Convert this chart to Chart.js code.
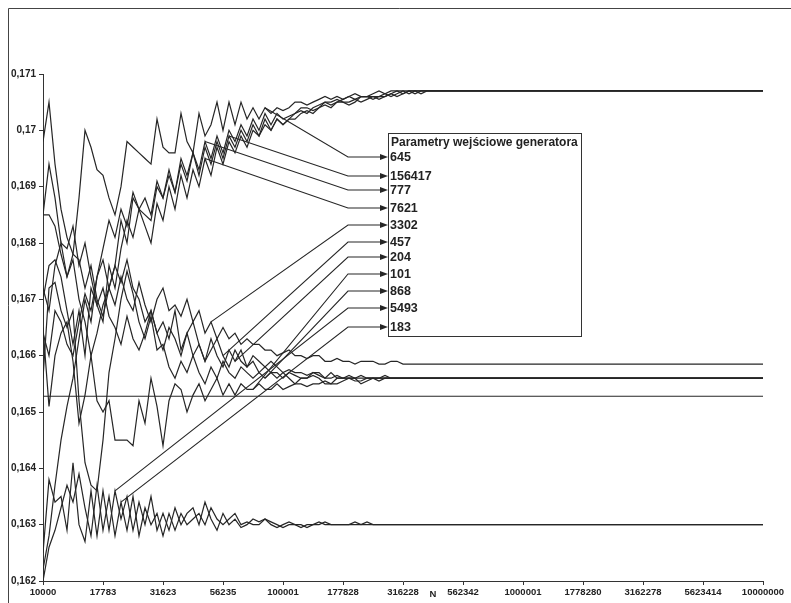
<!DOCTYPE html>
<html>
<head>
<meta charset="utf-8">
<script src="https://cdn.jsdelivr.net/npm/chart.js@4"></script>
<style>
  html, body { margin: 0; padding: 0; background: #fff; }
  #wrap { width: 791px; height: 603px; }
</style>
</head>
<body>
<div id="wrap"><canvas id="genChart" width="791" height="603"></canvas></div>
<script>
// step index along the x axis (40 steps per decade of N)
const kIdx = [0,1,2,3,4,5,6,7,8,9,10,11,12,13,14,15,16,17,18,19,20,21,22,23,24,25,26,27,28,29,
  30,31,32,33,34,35,36,37,38,39,40,41,42,43,44,45,46,47,48,49,50,51,52,53,54,55,56,57,58,59,
  60,61,62,63,64,66,68,70,72,74,76,78,80,84,88,92,96,100,110,120];

const xTickLabels = ["10000", "17783", "31623", "56235", "100001", "177828", "316228",
  "562342", "1000001", "1778280", "3162278", "5623414", "10000000"];

const seriesNames = ["645", "156417", "777", "7621", "3302", "457", "204", "101", "868", "5493", "183"];

const s645 = [0.1672,0.1668,0.1676,0.1680,0.1674,0.1678,0.1688,0.1700,0.1697,0.1693,
  0.1692,0.1688,0.1685,0.1690,0.1698,0.1697,0.1696,0.1695,0.1694,0.1702,
  0.1697,0.1696,0.1696,0.1703,0.1698,0.1696,0.1703,0.1699,0.1701,0.1705,
  0.1700,0.1705,0.1701,0.1705,0.1702,0.1704,0.1702,0.1704,0.1703,0.1704,
  0.17035,0.1704,0.1705,0.1705,0.17045,0.1705,0.17055,0.1706,0.17055,0.1706,
  0.17055,0.1706,0.17065,0.1706,0.1706,0.17065,0.1707,0.17065,0.1707,0.1707,
  0.17065,0.1707,0.1707,0.1707,0.1707,
  0.1707,0.1707,0.1707,0.1707,0.1707,0.1707,0.1707,0.1707,0.1707,0.1707,0.1707,0.1707,0.1707,0.1707,0.1707];
const s156417 = [0.1664,0.1660,0.1668,0.1666,0.1662,0.1660,0.1666,0.1671,0.1668,0.1674,
  0.1677,0.1672,0.1676,0.1684,0.1680,0.1688,0.1686,0.1685,0.1684,0.1690,
  0.1688,0.1692,0.1689,0.1694,0.1691,0.1696,0.1692,0.1697,0.1694,0.1698,
  0.1695,0.1699,0.1697,0.1700,0.1698,0.1701,0.1699,0.1702,0.1700,0.1702,
  0.1701,0.1702,0.1703,0.17035,0.1703,0.1704,0.17045,0.1705,0.17045,0.1705,
  0.17055,0.1706,0.17055,0.1705,0.17055,0.1706,0.1706,0.17065,0.1706,0.17065,
  0.1707,0.17065,0.1707,0.1707,0.1707,
  0.1707,0.1707,0.1707,0.1707,0.1707,0.1707,0.1707,0.1707,0.1707,0.1707,0.1707,0.1707,0.1707,0.1707,0.1707];
const s777 = [0.1622,0.1628,0.1637,0.1645,0.1651,0.1656,0.1663,0.1670,0.1666,0.1674,
  0.1679,0.1684,0.1681,0.1686,0.1683,0.1689,0.1686,0.1688,0.1685,0.1691,
  0.1688,0.1693,0.1689,0.1695,0.1692,0.1696,0.1693,0.1698,0.1695,0.1699,
  0.1696,0.1700,0.1698,0.1701,0.1699,0.1702,0.1700,0.1703,0.1701,0.1703,
  0.1702,0.17025,0.1703,0.1704,0.1704,0.17035,0.1704,0.1705,0.1705,0.17055,
  0.1705,0.1705,0.17055,0.1706,0.1706,0.17055,0.1706,0.1706,0.17065,0.1707,
  0.1707,0.1707,0.17065,0.1707,0.1707,
  0.1707,0.1707,0.1707,0.1707,0.1707,0.1707,0.1707,0.1707,0.1707,0.1707,0.1707,0.1707,0.1707,0.1707,0.1707];
const s7621 = [0.1670,0.1676,0.1677,0.1674,0.1668,0.1662,0.1668,0.1660,0.1672,0.1669,
  0.1666,0.1676,0.1672,0.1679,0.1684,0.1681,0.1686,0.1683,0.1680,0.1687,
  0.1684,0.1690,0.1686,0.1692,0.1688,0.1693,0.1690,0.1695,0.1692,0.1697,
  0.1694,0.1698,0.1696,0.1699,0.1697,0.1700,0.1699,0.1701,0.1700,0.1702,
  0.1701,0.1702,0.1702,0.1703,0.17035,0.1703,0.1704,0.17045,0.1704,0.1705,
  0.1705,0.17045,0.1705,0.1706,0.1706,0.1706,0.17055,0.1706,0.17065,0.1706,
  0.17065,0.1707,0.1707,0.17065,0.1707,
  0.1707,0.1707,0.1707,0.1707,0.1707,0.1707,0.1707,0.1707,0.1707,0.1707,0.1707,0.1707,0.1707,0.1707,0.1707];
const s3302 = [0.1698,0.1705,0.1694,0.1686,0.1681,0.1678,0.1677,0.1672,0.1676,0.1670,
  0.1667,0.1672,0.1669,0.1674,0.1670,0.1668,0.1673,0.1669,0.1666,0.1670,
  0.1672,0.1668,0.1669,0.1667,0.1670,0.1666,0.1668,0.1664,0.1666,0.1663,
  0.1665,0.1663,0.1664,0.1662,0.1663,0.1662,0.1662,0.1661,0.1661,0.1660,
  0.16605,0.1661,0.1660,0.1660,0.16595,0.1660,0.1660,0.1659,0.1659,0.16595,
  0.1659,0.1659,0.16585,0.1659,0.1659,0.1659,0.16585,0.16585,0.1659,0.1659,
  0.16585,0.16585,0.16585,0.16585,0.16585,
  0.16585,0.16585,0.16585,0.16585,0.16585,0.16585,0.16585,0.16585,0.16585,0.16585,0.16585,0.16585,0.16585,0.16585,0.16585];
const s457 = [0.1685,0.1694,0.1688,0.1680,0.1679,0.1683,0.1676,0.1680,0.1674,0.1669,
  0.1672,0.1667,0.1665,0.1662,0.1667,0.1663,0.1661,0.1664,0.1668,0.1664,
  0.1661,0.1665,0.1663,0.1660,0.1664,0.1666,0.1662,0.1659,0.1661,0.1663,
  0.1660,0.1658,0.1661,0.1659,0.1658,0.1660,0.1659,0.1658,0.1659,0.1658,
  0.1657,0.16575,0.1657,0.1657,0.16565,0.1657,0.1657,0.1656,0.1656,0.16565,
  0.1656,0.1656,0.1656,0.16565,0.1656,0.1656,0.1656,0.1656,0.1656,0.1656,
  0.1656,0.1656,0.1656,0.1656,0.1656,
  0.1656,0.1656,0.1656,0.1656,0.1656,0.1656,0.1656,0.1656,0.1656,0.1656,0.1656,0.1656,0.1656,0.1656,0.1656];
const s204 = [0.1685,0.1685,0.1683,0.1678,0.1674,0.1677,0.1670,0.1666,0.1660,0.1664,
  0.1669,0.1672,0.1676,0.1673,0.1677,0.1672,0.1670,0.1666,0.1668,0.1664,
  0.1666,0.1663,0.1668,0.1661,0.1664,0.1660,0.1662,0.1659,0.1663,0.1660,
  0.1658,0.1661,0.1659,0.1661,0.1658,0.1659,0.1657,0.1658,0.1657,0.1656,
  0.1657,0.1656,0.1655,0.1656,0.1656,0.16565,0.1656,0.1655,0.1655,0.1656,
  0.1656,0.1656,0.1656,0.1655,0.16555,0.1656,0.1656,0.1656,0.1656,0.1656,
  0.1656,0.1656,0.1656,0.1656,0.1656,
  0.1656,0.1656,0.1656,0.1656,0.1656,0.1656,0.1656,0.1656,0.1656,0.1656,0.1656,0.1656,0.1656,0.1656,0.1656];
const s101 = [0.1665,0.1651,0.1660,0.1664,0.1666,0.1659,0.1648,0.1653,0.1660,0.1652,
  0.1650,0.1652,0.1645,0.1645,0.1645,0.1644,0.1652,0.1648,0.1656,0.1651,
  0.1644,0.1652,0.1655,0.1654,0.1650,0.1653,0.1655,0.1652,0.1654,0.1656,
  0.1653,0.1655,0.1653,0.1655,0.1654,0.1654,0.1655,0.1654,0.1654,0.1655,
  0.1654,0.16545,0.1655,0.1655,0.16545,0.1655,0.1655,0.16555,0.1655,0.1655,
  0.16555,0.1656,0.16555,0.16555,0.1656,0.1656,0.16555,0.1656,0.1656,0.1656,
  0.1656,0.1656,0.1656,0.1656,0.1656,
  0.1656,0.1656,0.1656,0.1656,0.1656,0.1656,0.1656,0.1656,0.1656,0.1656,0.1656,0.1656,0.1656,0.1656,0.1656];
const s868 = [0.1656,0.1672,0.1673,0.1668,0.1665,0.1668,0.1652,0.1641,0.1637,0.1636,
  0.1645,0.1657,0.1663,0.1670,0.1675,0.1671,0.1666,0.1663,0.1667,0.1661,
  0.1662,0.1658,0.1656,0.1659,0.1657,0.1660,0.1657,0.1655,0.1658,0.1656,
  0.1659,0.1657,0.1656,0.1658,0.1657,0.1656,0.1657,0.1656,0.1657,0.1657,
  0.1656,0.1657,0.16565,0.1656,0.1656,0.1657,0.16565,0.1656,0.1657,0.1656,
  0.1656,0.16565,0.1656,0.1656,0.1656,0.1656,0.1656,0.16565,0.1656,0.1656,
  0.1656,0.1656,0.1656,0.1656,0.1656,
  0.1656,0.1656,0.1656,0.1656,0.1656,0.1656,0.1656,0.1656,0.1656,0.1656,0.1656,0.1656,0.1656,0.1656,0.1656];
const s5493 = [0.1625,0.1638,0.1634,0.1635,0.1629,0.1641,0.1630,0.1627,0.1636,0.1628,
  0.1636,0.1629,0.1636,0.1631,0.1635,0.1629,0.1634,0.1630,0.1635,0.1629,
  0.1632,0.1629,0.1633,0.1630,0.1632,0.1633,0.1630,0.1634,0.1631,0.1629,
  0.1632,0.1630,0.1631,0.16295,0.1630,0.1631,0.16305,0.1631,0.1630,0.16295,
  0.1630,0.16305,0.1630,0.1630,0.16295,0.1630,0.16305,0.1630,0.1630,0.1630,
  0.1630,0.1630,0.16305,0.1630,0.1630,0.1630,0.1630,0.1630,0.1630,0.1630,
  0.1630,0.1630,0.1630,0.1630,0.1630,
  0.1630,0.1630,0.1630,0.1630,0.1630,0.1630,0.1630,0.1630,0.1630,0.1630,0.1630,0.1630,0.1630,0.1630,0.1630];
const s183 = [0.1620,0.1626,0.1629,0.1633,0.1637,0.1634,0.1639,0.1633,0.1628,0.1637,
  0.1629,0.1635,0.1628,0.1634,0.1629,0.1635,0.1628,0.1633,0.1630,0.1632,
  0.1628,0.1632,0.1629,0.1632,0.1630,0.1631,0.1632,0.1630,0.1633,0.1631,
  0.1630,0.1631,0.1632,0.1630,0.16305,0.1630,0.1630,0.1631,0.16305,0.1630,
  0.16295,0.1630,0.1630,0.16295,0.1630,0.1630,0.1630,0.16305,0.1630,0.1630,
  0.1630,0.1630,0.1630,0.1630,0.16305,0.1630,0.1630,0.1630,0.1630,0.1630,
  0.1630,0.1630,0.1630,0.1630,0.1630,
  0.1630,0.1630,0.1630,0.1630,0.1630,0.1630,0.1630,0.1630,0.1630,0.1630,0.1630,0.1630,0.1630,0.1630,0.1630];

// horizontal reference line
const refK = [0, 120];
const refLevel = [0.16528, 0.16528];

const seriesValues = [s645, s156417, s777, s7621, s3302, s457, s204, s101, s868, s5493, s183];
// step index where each callout arrow leaves its line
const arrowK = [37, 31, 27, 27, 28, 30, 32, 35, 37, 12, 13];

const lineColor = '#262626';

const datasets = seriesValues.map((vals, i) => ({
    label: seriesNames[i],
    data: kIdx.map((k, j) => ({x: k, y: vals[j]})),
    borderColor: lineColor,
    borderWidth: 1.2,
    pointRadius: 0,
    tension: 0,
    fill: false
}));
datasets.push({
    label: 'ref',
    data: refK.map((k, j) => ({x: k, y: refLevel[j]})),
    borderColor: lineColor,
    borderWidth: 1.2,
    pointRadius: 0,
    fill: false
});

const callouts = {
    id: 'callouts',
    afterDraw(chart) {
        const ctx = chart.ctx;
        const xs = chart.scales.x, ys = chart.scales.y;
        ctx.save();

        // scanned page frame
        ctx.strokeStyle = '#444';
        ctx.lineWidth = 1;
        ctx.beginPath();
        ctx.moveTo(8.5, 603);
        ctx.lineTo(8.5, 8.5);
        ctx.lineTo(791, 8.5);
        ctx.stroke();

        // legend box
        const bl = 388, bt = 133, br = 581, bb = 336;
        ctx.fillStyle = '#fff';
        ctx.fillRect(bl, bt, br - bl, bb - bt);
        ctx.strokeStyle = '#333';
        ctx.strokeRect(bl + 0.5, bt + 0.5, br - bl, bb - bt);

        ctx.fillStyle = '#222';
        ctx.textBaseline = 'middle';
        ctx.textAlign = 'left';
        ctx.font = 'bold 12px "Liberation Sans", Arial, sans-serif';
        ctx.fillText('Parametry wejściowe generatora', bl + 3, 143);

        const labelY = [157, 176, 190, 208, 225, 242, 257, 274, 291, 308, 327];
        const elbowX = 348, tipX = bl;
        ctx.font = 'bold 12.5px "Liberation Sans", Arial, sans-serif';
        ctx.lineWidth = 1.1;
        ctx.strokeStyle = lineColor;
        seriesNames.forEach((name, i) => {
            const j = kIdx.indexOf(arrowK[i]);
            const tx = xs.getPixelForValue(arrowK[i]);
            const ty = ys.getPixelForValue(seriesValues[i][j]);
            const ly = labelY[i];
            ctx.beginPath();
            ctx.moveTo(tx, ty);
            ctx.lineTo(elbowX, ly);
            ctx.lineTo(tipX - 6, ly);
            ctx.stroke();
            ctx.beginPath();
            ctx.moveTo(tipX, ly);
            ctx.lineTo(tipX - 8, ly - 3);
            ctx.lineTo(tipX - 8, ly + 3);
            ctx.closePath();
            ctx.fillStyle = lineColor;
            ctx.fill();
            ctx.fillStyle = '#222';
            ctx.fillText(name, bl + 2, ly + 1);
        });

        // axis title N
        ctx.font = 'bold 9.5px "Liberation Sans", Arial, sans-serif';
        ctx.textAlign = 'center';
        ctx.fillText('N', xs.getPixelForValue(65), 594);
        ctx.restore();
    }
};

new Chart(document.getElementById('genChart').getContext('2d'), {
    type: 'line',
    data: { datasets: datasets },
    options: {
        responsive: false,
        animation: false,
        events: [],
        layout: { padding: { left: 0, top: 74, right: 28, bottom: 0 } },
        plugins: {
            legend: { display: false },
            tooltip: { enabled: false }
        },
        scales: {
            x: {
                type: 'linear',
                min: 0,
                max: 120,
                afterFit: (s) => { s.height = 22; },
                afterBuildTicks: (s) => {
                    s.ticks = xTickLabels.map((_, i) => ({ value: i * 10 }));
                },
                ticks: {
                    autoSkip: false,
                    maxRotation: 0,
                    padding: 2,
                    color: '#222',
                    font: { family: '"Liberation Sans", Arial', size: 9.5, weight: 'bold' },
                    callback: (v) => xTickLabels[Math.round(v / 10)]
                },
                grid: { drawOnChartArea: false, drawTicks: true, tickLength: 4, color: '#333' },
                border: { display: true, color: '#333', width: 1 }
            },
            y: {
                min: 0.162,
                max: 0.171,
                afterFit: (s) => { s.width = 43; },
                ticks: {
                    stepSize: 0.001,
                    padding: 3,
                    color: '#222',
                    font: { family: '"Liberation Sans", Arial', size: 10, weight: 'bold' },
                    callback: (v) => String(Math.round(v * 1000) / 1000).replace('.', ',')
                },
                grid: { drawOnChartArea: false, drawTicks: true, tickLength: 4, color: '#333' },
                border: { display: true, color: '#333', width: 1 }
            }
        }
    },
    plugins: [callouts]
});
</script>
</body>
</html>
